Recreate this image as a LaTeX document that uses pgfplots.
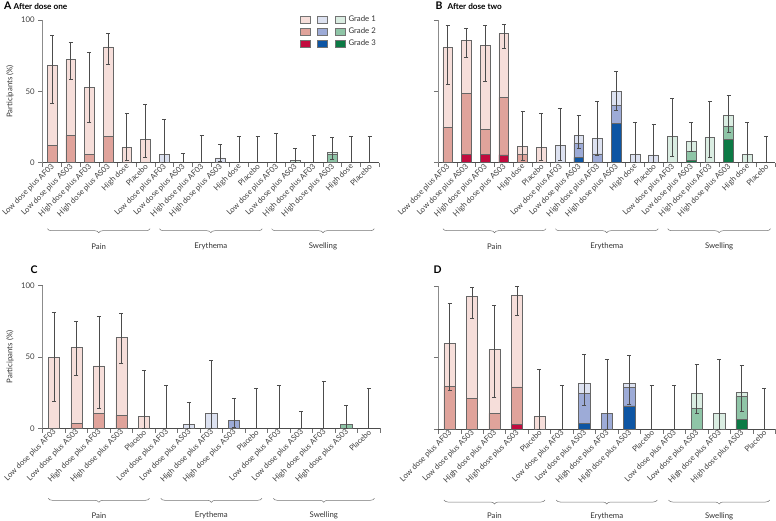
\documentclass[border=0pt]{standalone}
\usepackage{fontspec}
\setmainfont{Lato}
\usepackage{pgfplots}
\pgfplotsset{compat=1.18}
\usetikzlibrary{decorations.pathreplacing}

\definecolor{pa1}{HTML}{F6DEDA}
\definecolor{pa2}{HTML}{E0A39B}
\definecolor{pa3}{HTML}{C20B3E}
\definecolor{er1}{HTML}{DDE2F1}
\definecolor{er2}{HTML}{9DABD7}
\definecolor{er3}{HTML}{0D55A3}
\definecolor{sw1}{HTML}{DAEDE2}
\definecolor{sw2}{HTML}{8FC5A7}
\definecolor{sw3}{HTML}{0C7A45}

\newcommand\tf{\fontsize{7.8}{9}\selectfont}

\tikzset{gbrace/.style={decorate, decoration={brace, mirror, amplitude=4pt}, black!55, line width=0.5pt}}

\pgfplotsset{
  panel/.style={
    scale only axis, ymin=0, ymax=100, enlargelimits=false, clip=false,
    axis x line*=bottom, axis y line*=left,
    ytick={0,50,100}, tick align=outside, major tick length=4.5pt,
    tick style={black!55, line width=0.5pt},
    x axis line style={black!70, line width=0.5pt},
    y axis line style={black!45, line width=0.8pt},
    xticklabels={},
    extra x tick style={major tick length=0pt},
    xticklabel style={rotate=45, anchor=east, font=\tf, inner sep=1pt, text=black!75, yshift=-2.5pt},
    yticklabel style={font=\tf, text=black!75},
    /pgf/number format/assume math mode=true,
    every axis y label/.style={at={(axis description cs:-0.097,0.5)}, rotate=90, anchor=center, font=\tf, text=black!80},
  },
  seg/.style={ybar, bar shift=0pt, draw=black!60, line width=0.5pt, fill=#1, forget plot},
  errs/.style={forget plot, draw=none, no markers,
    error bars/.cd, y dir=both, y explicit,
    error bar style={draw=black!70, line width=0.6pt},
    error mark options={rotate=90, mark size=2pt, line width=0.6pt, draw=black!70}},
  swatch/.style={legend image code/.code={\draw[##1] (0pt,-3.5pt) rectangle (10pt,3.5pt);}},
}

\begin{document}
\begin{tikzpicture}
\useasboundingbox (0pt,0pt) rectangle (776pt,520pt);

% panel titles
\node[anchor=west, font=\fontsize{10.5}{12}\selectfont\bfseries] at (0.5pt,514.5pt) {A};
\node[anchor=west, font=\fontsize{8.2}{10}\selectfont\bfseries] at (10pt,514pt) {After dose one};
\node[anchor=west, font=\fontsize{10.5}{12}\selectfont\bfseries] at (432pt,514.5pt) {B};
\node[anchor=west, font=\fontsize{8.2}{10}\selectfont\bfseries] at (444pt,514pt) {After dose two};
\node[anchor=west, font=\fontsize{10.5}{12}\selectfont\bfseries] at (27pt,250pt) {C};
\node[anchor=west, font=\fontsize{10.5}{12}\selectfont\bfseries] at (430pt,250pt) {D};

% ---------------- A ----------------
\begin{axis}[panel, at={(42.7pt,357.3pt)}, anchor=south west,
  width=336.3pt, height=142.7pt, xmin=0.5, xmax=18.5,
  xtick={0.5,1.5,...,18.5},
  extra x ticks={1,...,18},
  extra x tick labels={Low dose plus AF03,Low dose plus AS03,High dose plus AF03,High dose plus AS03,High dose,Placebo,Low dose plus AF03,Low dose plus AS03,High dose plus AF03,High dose plus AS03,High dose,Placebo,Low dose plus AF03,Low dose plus AS03,High dose plus AF03,High dose plus AS03,High dose,Placebo},
  ylabel={Participants (\%)},
  legend columns=3, legend cell align=left,
  legend style={draw=none, fill=none, font=\tf, text=black!80,
    at={(axis description cs:1.006,1.056)}, anchor=north east,
    /tikz/column sep=1.5pt, /tikz/row sep=0.5pt},
]
\addlegendimage{swatch, fill=pa1, draw=black!55}\addlegendentry{\relax}
\addlegendimage{swatch, fill=er1, draw=black!55}\addlegendentry{\relax}
\addlegendimage{swatch, fill=sw1, draw=black!55}\addlegendentry{Grade 1}
\addlegendimage{swatch, fill=pa2, draw=black!55}\addlegendentry{\relax}
\addlegendimage{swatch, fill=er2, draw=black!55}\addlegendentry{\relax}
\addlegendimage{swatch, fill=sw2, draw=black!55}\addlegendentry{Grade 2}
\addlegendimage{swatch, fill=pa3, draw=black!55}\addlegendentry{\relax}
\addlegendimage{swatch, fill=er3, draw=black!55}\addlegendentry{\relax}
\addlegendimage{swatch, fill=sw3, draw=black!55}\addlegendentry{Grade 3}

\addplot[seg=pa1, bar width=0.52] coordinates {(1,68.0) (2,72.2) (3,52.8) (4,81.1) (5,10.7) (6,16.4)};
\addplot[seg=pa2, bar width=0.52] coordinates {(1,12.1) (2,19.2) (3,5.8) (4,18.5)};
\addplot[seg=er1, bar width=0.52] coordinates {(7,5.8) (10,3.3)};
\addplot[seg=sw1, bar width=0.52] coordinates {(14,1.6) (16,7.2)};
\addplot[seg=sw2, bar width=0.52] coordinates {(16,5.6)};
\addplot[errs] table[x=x, y=y, y error plus expr=\thisrow{hi}-\thisrow{y}, y error minus expr=\thisrow{y}-\thisrow{lo}] {
x y hi lo
1 68.0 89.0 41.6
2 72.2 84.1 58.6
3 52.8 77.1 28.3
4 81.1 90.7 68.9
5 10.7 34.6 1.6
6 16.4 41.1 4.0
7 5.8 30.4 0.2
8 0 6.8 0
9 0 19.2 0
10 3.3 12.6 0.7
11 0 18.5 0
12 0 18.5 0
13 0 20.6 0
14 1.6 10.0 0
15 0 19.2 0
16 7.2 17.8 2.6
17 0 18.5 0
18 0 18.5 0
};
\draw[gbrace] ([yshift=-66pt]axis cs:0.75,0) -- ([yshift=-66pt]axis cs:6.25,0);
\draw[gbrace] ([yshift=-66pt]axis cs:6.75,0) -- ([yshift=-66pt]axis cs:12.25,0);
\draw[gbrace] ([yshift=-66pt]axis cs:12.75,0) -- ([yshift=-66pt]axis cs:18.25,0);
\node[font=\tf, text=black!80] at ([yshift=-84pt]axis cs:3.5,0) {Pain};
\node[font=\tf, text=black!80] at ([yshift=-84pt]axis cs:9.5,0) {Erythema};
\node[font=\tf, text=black!80] at ([yshift=-84pt]axis cs:15.5,0) {Swelling};
\end{axis}

% ---------------- B ----------------
\begin{axis}[panel, at={(438.3pt,357.3pt)}, anchor=south west,
  width=337pt, height=142.7pt, xmin=0.5, xmax=18.5,
  yticklabels={},
  xtick={0.5,1.5,...,18.5},
  extra x ticks={1,...,18},
  extra x tick labels={Low dose plus AF03,Low dose plus AS03,High dose plus AF03,High dose plus AS03,High dose,Placebo,Low dose plus AF03,Low dose plus AS03,High dose plus AF03,High dose plus AS03,High dose,Placebo,Low dose plus AF03,Low dose plus AS03,High dose plus AF03,High dose plus AS03,High dose,Placebo},
]
\addplot[seg=pa1, bar width=0.52] coordinates {(1,80.8) (2,85.7) (3,82.0) (4,90.4) (5,11.7) (6,10.7)};
\addplot[seg=pa2, bar width=0.52] coordinates {(1,24.8) (2,48.4) (3,23.4) (4,45.8) (5,5.8)};
\addplot[seg=pa3, bar width=0.52] coordinates {(2,5.8) (3,5.8) (4,5.4)};
\addplot[seg=er1, bar width=0.52] coordinates {(7,12.1) (8,19.2) (9,17.3) (10,50.0) (11,5.8) (12,5.4)};
\addplot[seg=er2, bar width=0.52] coordinates {(8,13.6) (9,6.1) (10,40.2)};
\addplot[seg=er3, bar width=0.52] coordinates {(8,3.7) (10,27.8)};
\addplot[seg=sw1, bar width=0.52] coordinates {(13,18.5) (14,15.2) (15,17.5) (16,33.2) (17,5.6)};
\addplot[seg=sw2, bar width=0.52] coordinates {(14,7.7) (16,25.7)};
\addplot[seg=sw3, bar width=0.52] coordinates {(14,1.6) (16,16.4)};
\addplot[errs] table[x=x, y=y, y error plus expr=\thisrow{hi}-\thisrow{y}, y error minus expr=\thisrow{y}-\thisrow{lo}] {
x y hi lo
1 80.8 96.0 54.9
2 85.7 93.9 73.8
3 82.0 96.0 57.2
4 90.4 96.7 80.1
5 11.7 36.2 1.4
6 10.7 34.6 1.4
7 12.1 38.1 1.6
8 19.2 32.9 10.3
9 17.3 43.2 5.4
10 50.0 63.8 36.9
11 5.8 28.3 0
12 5.4 26.9 0
13 18.5 45.3 4.2
14 15.2 28.3 7.7
15 17.5 43.2 4.0
16 33.2 47.0 21.0
17 5.6 28.3 0
18 0 18.5 0
};
\draw[gbrace] ([yshift=-66pt]axis cs:0.75,0) -- ([yshift=-66pt]axis cs:6.25,0);
\draw[gbrace] ([yshift=-66pt]axis cs:6.75,0) -- ([yshift=-66pt]axis cs:12.25,0);
\draw[gbrace] ([yshift=-66pt]axis cs:12.75,0) -- ([yshift=-66pt]axis cs:18.25,0);
\node[font=\tf, text=black!80] at ([yshift=-84pt]axis cs:3.5,0) {Pain};
\node[font=\tf, text=black!80] at ([yshift=-84pt]axis cs:9.5,0) {Erythema};
\node[font=\tf, text=black!80] at ([yshift=-84pt]axis cs:15.5,0) {Swelling};
\end{axis}

% ---------------- C ----------------
\begin{axis}[panel, at={(42.7pt,91.7pt)}, anchor=south west,
  width=337.3pt, height=142.6pt, xmin=0.5, xmax=15.5,
  xtick={0.5,1.5,...,15.5},
  extra x ticks={1,...,15},
  extra x tick labels={Low dose plus AF03,Low dose plus AS03,High dose plus AF03,High dose plus AS03,Placebo,Low dose plus AF03,Low dose plus AS03,High dose plus AF03,High dose plus AS03,Placebo,Low dose plus AF03,Low dose plus AS03,High dose plus AF03,High dose plus AS03,Placebo},
  ylabel={Participants (\%)},
]
\addplot[seg=pa1, bar width=0.5] coordinates {(1,49.5) (2,56.8) (3,43.7) (4,63.8) (5,8.6)};
\addplot[seg=pa2, bar width=0.5] coordinates {(2,3.3) (3,10.5) (4,9.1)};
\addplot[seg=er1, bar width=0.5] coordinates {(7,3.0) (8,10.5)};
\addplot[seg=er2, bar width=0.5] coordinates {(9,5.8)};
\addplot[seg=sw2, bar width=0.5] coordinates {(14,2.8)};
\addplot[errs] table[x=x, y=y, y error plus expr=\thisrow{hi}-\thisrow{y}, y error minus expr=\thisrow{y}-\thisrow{lo}] {
x y hi lo
1 49.5 81.1 18.9
2 56.8 75.2 37.1
3 43.7 78.5 14.0
4 63.8 80.6 45.8
5 8.6 40.9 0
6 0 30.4 0
7 3.0 18.0 0
8 10.5 47.9 0
9 5.8 21.0 0.5
10 0 28.3 0
11 0 30.4 0
12 0 11.9 0
13 0 33.2 0
14 2.8 16.1 0
15 0 28.3 0
};
\draw[gbrace] ([yshift=-70pt]axis cs:0.75,0) -- ([yshift=-70pt]axis cs:5.25,0);
\draw[gbrace] ([yshift=-70pt]axis cs:5.75,0) -- ([yshift=-70pt]axis cs:10.25,0);
\draw[gbrace] ([yshift=-70pt]axis cs:10.75,0) -- ([yshift=-70pt]axis cs:15.25,0);
\node[font=\tf, text=black!80] at ([yshift=-87pt]axis cs:3,0) {Pain};
\node[font=\tf, text=black!80] at ([yshift=-87pt]axis cs:8,0) {Erythema};
\node[font=\tf, text=black!80] at ([yshift=-87pt]axis cs:13,0) {Swelling};
\end{axis}

% ---------------- D ----------------
\begin{axis}[panel, at={(438.3pt,91pt)}, anchor=south west,
  width=337pt, height=143pt, xmin=0.5, xmax=15.5,
  yticklabels={},
  xtick={0.5,1.5,...,15.5},
  extra x ticks={1,...,15},
  extra x tick labels={Low dose plus AF03,Low dose plus AS03,High dose plus AF03,High dose plus AS03,Placebo,Low dose plus AF03,Low dose plus AS03,High dose plus AF03,High dose plus AS03,Placebo,Low dose plus AF03,Low dose plus AS03,High dose plus AF03,High dose plus AS03,Placebo},
]
\addplot[seg=pa1, bar width=0.5] coordinates {(1,59.9) (2,92.8) (3,55.5) (4,93.7) (5,8.9)};
\addplot[seg=pa2, bar width=0.5] coordinates {(1,29.8) (2,21.4) (3,11.0) (4,29.4)};
\addplot[seg=pa3, bar width=0.5] coordinates {(4,3.3)};
\addplot[seg=er1, bar width=0.5] coordinates {(7,31.9) (9,31.9)};
\addplot[seg=er2, bar width=0.5] coordinates {(7,24.9) (8,11.0) (9,29.1)};
\addplot[seg=er3, bar width=0.5] coordinates {(7,3.7) (9,16.1)};
\addplot[seg=sw1, bar width=0.5] coordinates {(12,24.9) (13,11.0) (14,25.6)};
\addplot[seg=sw2, bar width=0.5] coordinates {(12,14.5) (14,22.8)};
\addplot[seg=sw3, bar width=0.5] coordinates {(14,6.8)};
\addplot[errs] table[x=x, y=y, y error plus expr=\thisrow{hi}-\thisrow{y}, y error minus expr=\thisrow{y}-\thisrow{lo}] {
x y hi lo
1 59.9 87.9 27.0
2 92.8 99.1 77.2
3 55.5 86.5 21.9
4 93.7 99.5 79.5
5 8.9 41.5 0
6 0 30.8 0
7 31.9 52.4 16.6
8 11.0 48.5 0
9 31.9 51.3 17.0
10 0 30.8 0
11 0 30.8 0
12 24.9 45.2 11.2
13 11.0 48.5 0
14 25.6 44.8 12.1
15 0 28.7 0
};
\draw[gbrace] ([yshift=-71pt]axis cs:0.75,0) -- ([yshift=-71pt]axis cs:5.25,0);
\draw[gbrace] ([yshift=-71pt]axis cs:5.75,0) -- ([yshift=-71pt]axis cs:10.25,0);
\draw[gbrace] ([yshift=-71pt]axis cs:10.75,0) -- ([yshift=-71pt]axis cs:15.25,0);
\node[font=\tf, text=black!80] at ([yshift=-87pt]axis cs:3,0) {Pain};
\node[font=\tf, text=black!80] at ([yshift=-87pt]axis cs:8,0) {Erythema};
\node[font=\tf, text=black!80] at ([yshift=-87pt]axis cs:13,0) {Swelling};
\end{axis}
\end{tikzpicture}
\end{document}
